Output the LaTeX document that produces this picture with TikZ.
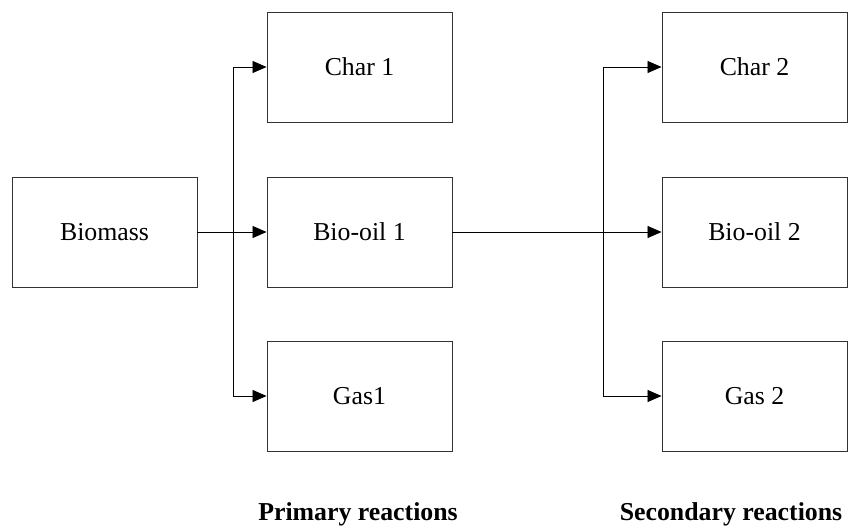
\documentclass[tikz,border=0pt]{standalone}
\usepackage{fontspec}
\setmainfont{Liberation Serif}
\newfontfamily\boxfont{Liberation Serif}
\usetikzlibrary{arrows.meta}
\begin{document}
\begin{tikzpicture}[x=1pt,y=-1pt,
  stage/.style={draw=black!80,line width=0.9pt,minimum width=185pt,minimum height=110pt,
    inner sep=0pt,font=\boxfont\fontsize{25.8}{30}\selectfont},
  flow/.style={draw=black,line width=0.8pt,-{Triangle[length=14pt,width=12pt]}},
  caption/.style={anchor=base,inner sep=0pt,font=\boxfont\fontsize{25.8}{30}\selectfont\bfseries}]
\useasboundingbox (0,0) rectangle (849,532);

% feedstock and primary products
\node[stage] (bio) at (104.5,232) {Biomass};
\node[stage] (c1)  at (359.5,67)  {Char 1};
\node[stage] (bo1) at (359.5,232) {Bio-oil 1};
\node[stage] (g1)  at (359.5,396) {Gas1};

% secondary products
\node[stage] (c2)  at (754.5,67)  {Char 2};
\node[stage] (bo2) at (754.5,232) {Bio-oil 2};
\node[stage] (g2)  at (754.5,396) {Gas 2};

% branch points
\coordinate (j1) at (233,232);
\coordinate (j2) at (603,232);

\draw[flow] (bio.east) -- (bo1.west);
\draw[flow] (j1) |- (c1.west);
\draw[flow] (j1) |- (g1.west);

\draw[flow] (bo1.east) -- (bo2.west);
\draw[flow] (j2) |- (c2.west);
\draw[flow] (j2) |- (g2.west);

% stage captions
\node[caption] (p1) at (358,520) {Primary reactions};
\node[caption] (p2) at (731,520) {Secondary reactions};
\end{tikzpicture}
\end{document}
